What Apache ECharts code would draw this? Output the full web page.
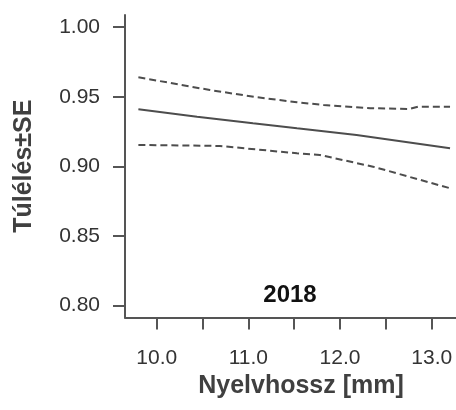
<!DOCTYPE html>
<html>
<head>
<meta charset="utf-8">
<script src="https://cdn.jsdelivr.net/npm/echarts@6/dist/echarts.min.js"></script>
<style>
  html, body { margin: 0; padding: 0; background: #fff; }
  #chart { width: 456px; height: 410px; }
</style>
</head>
<body>
<div id="chart"></div>
<script>
// Survival estimate (±SE) against tongue length, 2018
const meanX  = [9.80, 10.44, 11.05, 11.53, 12.18, 13.20];
const meanY  = [0.9410, 0.9357, 0.9310, 0.9274, 0.9226, 0.9130];

const upperX = [9.80, 10.27, 10.58, 11.09, 11.53, 11.82, 12.33, 12.76, 12.85, 13.20];
const upperY = [0.9641, 0.9585, 0.9549, 0.9497, 0.9461, 0.9441, 0.9418, 0.9413, 0.9429, 0.9429];

const lowerX = [9.80, 10.69, 11.53, 11.78, 12.36, 13.20];
const lowerY = [0.9154, 0.9147, 0.9094, 0.9082, 0.8998, 0.8843];

const xTicks  = [10.0, 10.5, 11.0, 11.5, 12.0, 12.5, 13.0];
const xLabels = [10.0, 11.0, 12.0, 13.0];
const yTicks  = [0.80, 0.85, 0.90, 0.95, 1.00];

const yearLabel = '2018';
const xTitle = 'Nyelvhossz [mm]';
const yTitle = 'Túlélés±SE';

const pairs = (xs, ys) => xs.map((x, i) => [x, ys[i]]);

const axisColor = '#555555';
const lineColor = '#4d4d4d';
const labelFont = { fontFamily: 'Liberation Sans, Arial, sans-serif', fontSize: 21, color: '#333333' };

const chart = echarts.init(document.getElementById('chart'), null, { renderer: 'canvas' });

chart.setOption({
  animation: false,
  backgroundColor: '#ffffff',
  grid: { left: 125, top: 15, right: 0, bottom: 92.5, containLabel: false },
  xAxis: {
    type: 'value',
    min: 9.654,
    max: 13.265,
    name: xTitle,
    nameLocation: 'middle',
    nameGap: 46,
    nameTextStyle: {
      fontFamily: 'Liberation Sans, Arial, sans-serif',
      fontSize: 25, fontWeight: 'bold', color: '#404040',
      padding: [0, 0, 0, 21]
    },
    axisLine: { show: true, onZero: false, lineStyle: { color: axisColor, width: 2 } },
    axisTick: { show: true, inside: false, length: 12, customValues: xTicks, lineStyle: { color: axisColor, width: 2 } },
    axisLabel: Object.assign({ margin: 30, customValues: xLabels, formatter: v => v.toFixed(1) }, labelFont),
    splitLine: { show: false }
  },
  yAxis: {
    type: 'value',
    min: 0.7914,
    max: 1.0088,
    name: yTitle,
    nameLocation: 'middle',
    nameGap: 88,
    nameTextStyle: {
      fontFamily: 'Liberation Sans, Arial, sans-serif',
      fontSize: 25, fontWeight: 'bold', color: '#404040'
    },
    axisLine: { show: true, onZero: false, lineStyle: { color: axisColor, width: 2 } },
    axisTick: { show: true, inside: false, length: 12, customValues: yTicks, lineStyle: { color: axisColor, width: 2 } },
    axisLabel: Object.assign({ margin: 25, customValues: yTicks, formatter: v => v.toFixed(2) }, labelFont),
    splitLine: { show: false }
  },
  series: [
    {
      name: 'SE+', type: 'line', data: pairs(upperX, upperY), symbol: 'none',
      lineStyle: { color: lineColor, width: 2, type: [7, 4] }
    },
    {
      name: 'Túlélés', type: 'line', data: pairs(meanX, meanY), symbol: 'none',
      lineStyle: { color: lineColor, width: 2, type: 'solid' }
    },
    {
      name: 'SE-', type: 'line', data: pairs(lowerX, lowerY), symbol: 'none',
      lineStyle: { color: lineColor, width: 2, type: [7, 4] }
    }
  ],
  graphic: [
    {
      type: 'text',
      x: 290, y: 295,
      style: {
        text: yearLabel,
        fontFamily: 'Liberation Sans, Arial, sans-serif',
        fontSize: 24, fontWeight: 'bold', fill: '#111111',
        textAlign: 'center', textVerticalAlign: 'middle'
      }
    }
  ]
});
</script>
</body>
</html>
